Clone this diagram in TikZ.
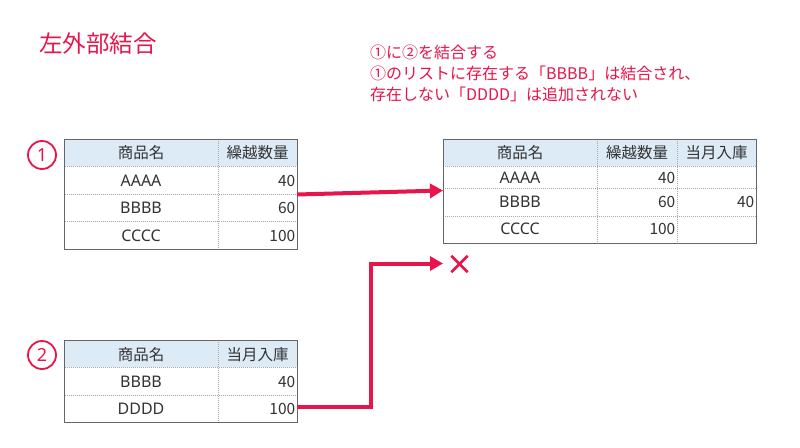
\documentclass[tikz,border=0pt]{standalone}
\usepackage{fontspec}
\setmainfont{Noto Sans CJK JP}
\newfontfamily\latinfont{Noto Sans}
\usetikzlibrary{arrows.meta}
\definecolor{jred}{HTML}{E8154A}
\definecolor{headblue}{HTML}{DDEBF7}
\definecolor{gridgray}{HTML}{A8A8A8}
\definecolor{edgegray}{HTML}{666666}
\definecolor{txt}{HTML}{333333}
\tikzset{
  cell/.style={inner sep=0pt, font=\fontsize{15.5}{16}\selectfont, text=txt},
  namecell/.style={inner sep=0pt, font=\latinfont\fontsize{16}{16}\selectfont, text=txt},
  numcell/.style={cell, anchor=east},
  grid/.style={draw=gridgray, line width=0.8pt, dash pattern=on 1pt off 1pt},
  outer/.style={draw=edgegray, line width=1pt},
  headfill/.style={fill=headblue},
  marknum/.style={circle, draw=jred, line width=1.8pt, minimum size=28pt, inner sep=0pt, text=jred, font=\latinfont\fontsize{18}{18}\selectfont},
  link/.style={draw=jred, line width=4pt, -{Triangle[length=13pt,width=14pt]}},
  note/.style={inner sep=0pt, anchor=west, text=jred, font=\fontsize{16}{16}\selectfont}
}
\begin{document}
\begin{tikzpicture}[x=1pt,y=-1pt]
\useasboundingbox (0,0) rectangle (800,447);
\fill[white] (0,0) rectangle (800,447);

% title
\node[inner sep=0pt, anchor=west, text=jred, font=\fontsize{23.5}{24}\selectfont] (title) at (39,44) {左外部結合};

% notes
\node[note] (n1) at (370,52.5) {①に②を結合する};
\node[note] (n2) at (370,73) {①のリストに存在する「BBBB」は結合され、};
\node[note] (n3) at (370,94) {存在しない「DDDD」は追加されない};

% ---------- table 1 ----------
\fill[headfill] (64.5,139) rectangle (297,166);
\draw[grid] (64.5,166) -- (297,166);
\draw[grid] (64.5,194) -- (297,194);
\draw[grid] (64.5,221.5) -- (297,221.5);
\draw[grid] (218,139) -- (218,249);
\draw[outer] (64.5,139) rectangle (297,249);
\node[cell] (t1h1) at (141,153) {商品名};
\node[cell] (t1h2) at (257.5,153) {繰越数量};
\node[namecell] (t1a) at (141,181) {AAAA};
\node[numcell] (t1a2) at (295.5,181) {40};
\node[namecell] (t1b) at (141,208) {BBBB};
\node[numcell] (t1b2) at (295.5,208) {60};
\node[namecell] (t1c) at (141,236) {CCCC};
\node[numcell] (t1c2) at (295.5,236) {100};
\node[marknum] (m1) at (42,155) {1};
\coordinate (t1out) at (297,194.5);

% ---------- table 2 ----------
\fill[headfill] (64.5,340) rectangle (297,367);
\draw[grid] (64.5,367) -- (297,367);
\draw[grid] (64.5,395) -- (297,395);
\draw[grid] (218,340) -- (218,422);
\draw[outer] (64.5,340) rectangle (297,422);
\node[cell] (t2h1) at (141,355) {商品名};
\node[cell] (t2h2) at (257.5,355) {当月入庫};
\node[namecell] (t2b) at (141,382) {BBBB};
\node[numcell] (t2b2) at (295.5,382) {40};
\node[namecell] (t2d) at (141,409) {DDDD};
\node[numcell] (t2d2) at (295.5,409) {100};
\node[marknum] (m2) at (42,355) {2};
\coordinate (t2out) at (297,407);

% ---------- table 3 ----------
\fill[headfill] (443,139) rectangle (756,166);
\draw[grid] (443,166) -- (756,166);
\draw[grid] (443,188) -- (756,188);
\draw[grid] (443,216) -- (756,216);
\draw[grid] (597,139) -- (597,243);
\draw[grid] (677,139) -- (677,243);
\draw[outer] (443,139) rectangle (756,243);
\node[cell] (t3h1) at (520,153) {商品名};
\node[cell] (t3h2) at (637,153) {繰越数量};
\node[cell] (t3h3) at (716.5,153) {当月入庫};
\node[namecell] (t3a) at (520,178) {AAAA};
\node[numcell] (t3a2) at (675.5,178) {40};
\node[namecell] (t3b) at (520,202) {BBBB};
\node[numcell] (t3b2) at (675.5,202) {60};
\node[numcell] (t3b3) at (754.5,202) {40};
\node[namecell] (t3c) at (520,229) {CCCC};
\node[numcell] (t3c2) at (675.5,229) {100};
\coordinate (t3in) at (443,190.5);

% ---------- cross ----------
\coordinate (xin) at (443,263.5);
\node[inner sep=0pt, minimum size=16pt] (cross) at (459.5,264) {};
\draw[jred, line width=2.6pt] (cross.north west) -- (cross.south east);
\draw[jred, line width=2.6pt] (cross.south west) -- (cross.north east);

% ---------- connectors ----------
\draw[link] (t1out) -- (t3in);
\draw[link] (t2out) -- (371,407) -- (371,263.5) -- (xin);
\end{tikzpicture}
\end{document}
